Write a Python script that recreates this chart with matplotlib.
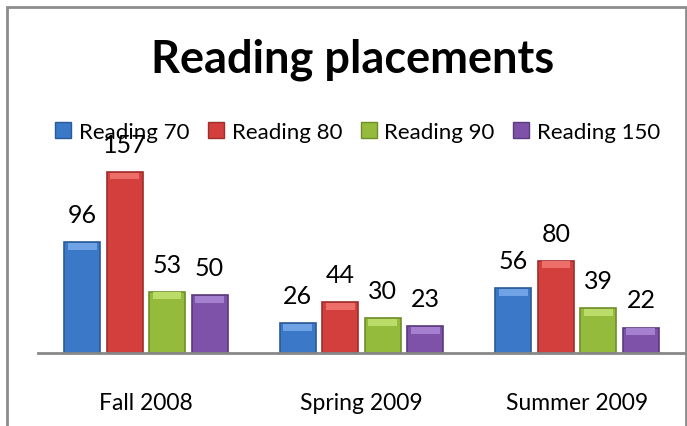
import numpy as np
import matplotlib.pyplot as plt
from matplotlib.patches import Rectangle
from matplotlib.lines import Line2D

terms = ["Fall 2008", "Spring 2009", "Summer 2009"]
series = ["Reading 70", "Reading 80", "Reading 90", "Reading 150"]
reading_70 = [96, 26, 56]
reading_80 = [157, 44, 80]
reading_90 = [53, 30, 39]
reading_150 = [50, 23, 22]

colors = ["#3b78c8", "#d23f3c", "#94bb3c", "#7d52a8"]
edges = ["#2a5a96", "#9e2d2b", "#6f8e2b", "#5b3a7d"]
tops = ["#6fa3e6", "#ee6e6a", "#bcdc6a", "#a680d0"]

plt.rcParams['font.family'] = ['Lato', 'DejaVu Sans']

fig = plt.figure(figsize=(6.87, 4.27), dpi=100)
ax = fig.add_axes([38 / 687, 1 - 354 / 427, 647 / 687, 244 / 427])

x = np.arange(len(terms))
width = 0.167
step = 0.197
offsets = (np.arange(4) - 1.5) * step
data = [reading_70, reading_80, reading_90, reading_150]

for i, vals in enumerate(data):
    pos = x + offsets[i]
    ax.bar(pos, vals, width, color=colors[i], edgecolor=edges[i], linewidth=1.2, zorder=2)
    # light bevel at the top of each bar
    cap = [min(6, v * 0.3) for v in vals]
    ax.bar(pos, cap, width * 0.8, bottom=np.array(vals) - np.array(cap) - 0.5,
           color=tops[i], linewidth=0, zorder=3)
    for p, v in zip(pos, vals):
        ax.text(p, v + 24, str(v), ha='center', va='center', fontsize=18, zorder=4)

ax.set_xlim(-0.5, 2.5)
ax.set_ylim(0, 211.6)
ax.set_xticks(x)
ax.set_xticklabels(terms, fontsize=16.5)
ax.tick_params(axis='x', length=0, pad=28)
ax.set_yticks([])
for s in ['top', 'right', 'left']:
    ax.spines[s].set_visible(False)
ax.spines['bottom'].set_color('#888888')
ax.spines['bottom'].set_linewidth(2)

fig.text(0.513, 1 - 60 / 427, "Reading placements", ha='center', va='center',
         fontsize=32.5, fontweight='bold')

handles = [Line2D([], [], marker='s', linestyle='', markersize=12,
                  markerfacecolor=colors[i], markeredgecolor=edges[i])
           for i in range(4)]
fig.legend(handles, series, loc='center', bbox_to_anchor=(0.52, 1 - 133 / 427),
           ncol=4, frameon=False, fontsize=16, handletextpad=0.3,
           columnspacing=0.8, handlelength=0.8)

# chart frame
fig.patches.append(Rectangle((7 / 687, -0.1), (686 - 7) / 687, 1.1 - 7.5 / 427,
                             transform=fig.transFigure, fill=False,
                             edgecolor='#8c8c8c', linewidth=2))

fig.savefig("out.png", dpi=100)
